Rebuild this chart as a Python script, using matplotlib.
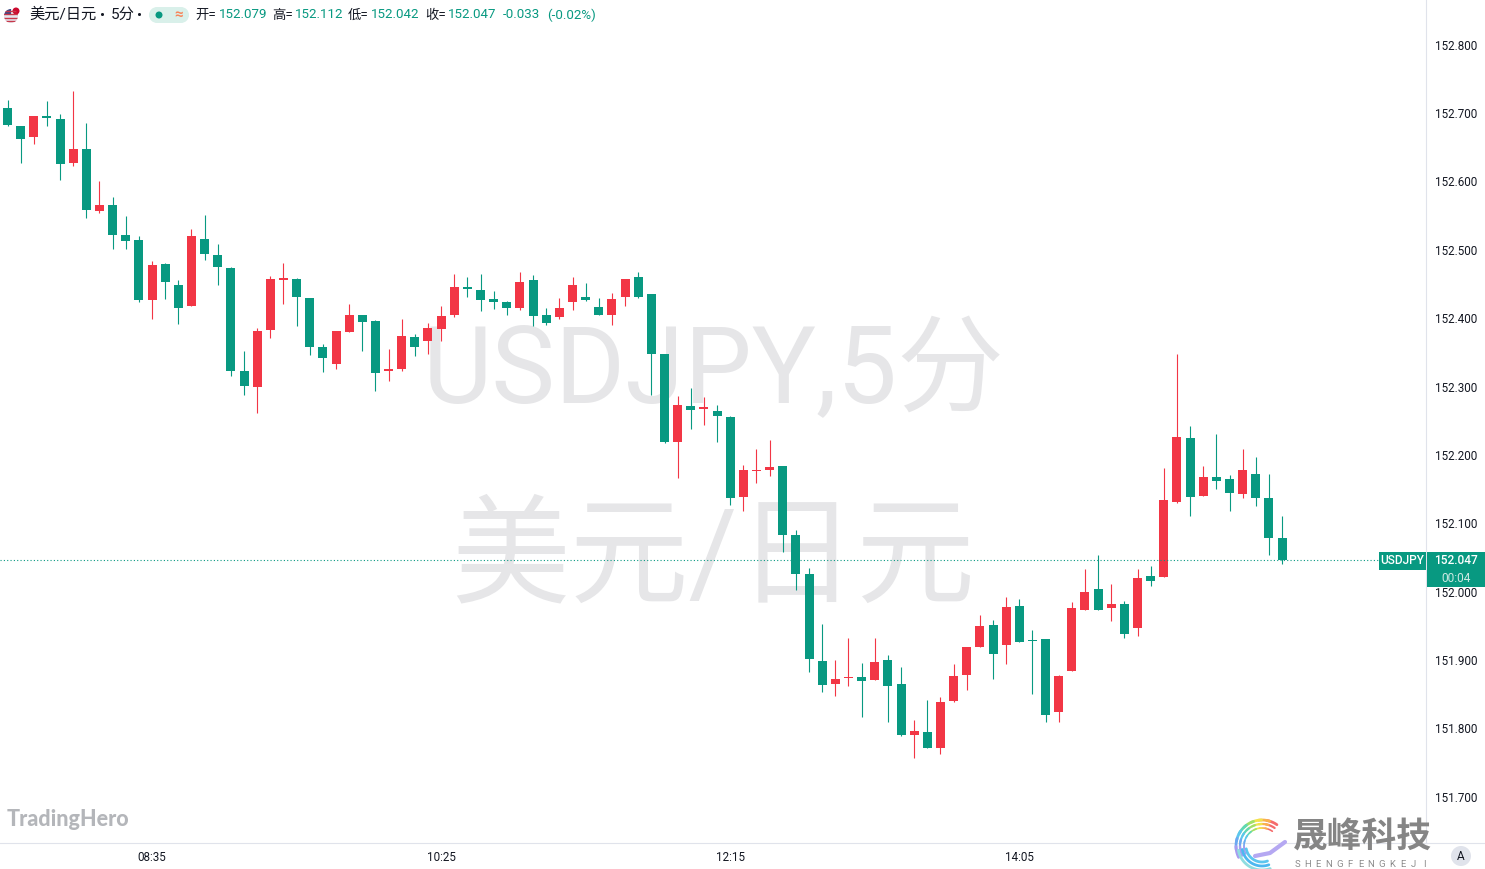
import matplotlib
matplotlib.use('Agg')
import matplotlib.pyplot as plt
from matplotlib.patches import Rectangle, Circle
from matplotlib.transforms import ScaledTranslation
import numpy as np

plt.rcParams['font.family'] = ['Roboto', 'Noto Sans CJK SC', 'DejaVu Sans']

opens = [152.709, 152.682, 152.666, 152.697, 152.693, 152.628, 152.649, 152.558, 152.567, 152.523,
         152.516, 152.428, 152.480, 152.450, 152.419, 152.517, 152.494, 152.475, 152.324, 152.301,
         152.384, 152.457, 152.458, 152.431, 152.359, 152.334, 152.381, 152.406, 152.397, 152.324,
         152.327, 152.374, 152.368, 152.385, 152.406, 152.447, 152.442, 152.429, 152.425, 152.416,
         152.457, 152.406, 152.403, 152.425, 152.432, 152.418, 152.406, 152.432, 152.461, 152.437,
         152.349, 152.220, 152.273, 152.268, 152.265, 152.257, 152.140, 152.178, 152.179, 152.185,
         152.084, 152.027, 151.900, 151.866, 151.875, 151.876, 151.872, 151.901, 151.866, 151.791,
         151.796, 151.772, 151.841, 151.879, 151.920, 151.952, 151.923, 151.980, 151.930, 151.932,
         151.825, 151.885, 151.974, 152.005, 151.977, 151.983, 151.948, 152.024, 152.022, 152.132,
         152.226, 152.141, 152.169, 152.166, 152.144, 152.173, 152.138, 152.079]
highs = [152.720, 152.682, 152.697, 152.719, 152.700, 152.733, 152.687, 152.602, 152.578, 152.551,
         152.521, 152.485, 152.482, 152.457, 152.532, 152.552, 152.510, 152.476, 152.353, 152.387,
         152.463, 152.482, 152.460, 152.431, 152.363, 152.383, 152.422, 152.406, 152.399, 152.356,
         152.400, 152.378, 152.394, 152.419, 152.466, 152.461, 152.466, 152.441, 152.426, 152.468,
         152.464, 152.416, 152.431, 152.461, 152.453, 152.431, 152.438, 152.458, 152.468, 152.437,
         152.349, 152.287, 152.299, 152.286, 152.274, 152.258, 152.186, 152.210, 152.223, 152.185,
         152.091, 152.036, 151.954, 151.901, 151.933, 151.897, 151.933, 151.908, 151.891, 151.813,
         151.843, 151.847, 151.895, 151.920, 151.967, 151.960, 151.993, 151.990, 151.945, 151.932,
         151.879, 151.986, 152.034, 152.055, 152.012, 151.987, 152.034, 152.039, 152.182, 152.349,
         152.243, 152.185, 152.232, 152.172, 152.210, 152.198, 152.173, 152.112]
lows = [152.682, 152.628, 152.656, 152.682, 152.603, 152.624, 152.548, 152.555, 152.502, 152.502,
        152.425, 152.400, 152.429, 152.393, 152.419, 152.486, 152.450, 152.317, 152.289, 152.263,
        152.372, 152.422, 152.390, 152.347, 152.322, 152.327, 152.381, 152.353, 152.295, 152.309,
        152.324, 152.346, 152.349, 152.368, 152.403, 152.432, 152.412, 152.415, 152.406, 152.413,
        152.390, 152.391, 152.400, 152.413, 152.426, 152.406, 152.391, 152.419, 152.431, 152.289,
        152.219, 152.167, 152.239, 152.245, 152.220, 152.128, 152.119, 152.160, 152.170, 152.059,
        152.004, 151.884, 151.854, 151.848, 151.863, 151.818, 151.872, 151.810, 151.790, 151.757,
        151.772, 151.764, 151.840, 151.857, 151.920, 151.873, 151.895, 151.928, 151.851, 151.810,
        151.810, 151.885, 151.974, 151.974, 151.958, 151.933, 151.936, 152.009, 152.022, 152.131,
        152.112, 152.141, 152.151, 152.119, 152.138, 152.126, 152.055, 152.042]
closes = [152.684, 152.663, 152.697, 152.694, 152.627, 152.649, 152.559, 152.567, 152.523, 152.514,
          152.428, 152.479, 152.454, 152.416, 152.521, 152.495, 152.476, 152.324, 152.302, 152.383,
          152.458, 152.460, 152.432, 152.359, 152.343, 152.383, 152.406, 152.396, 152.321, 152.327,
          152.375, 152.359, 152.387, 152.404, 152.447, 152.444, 152.428, 152.425, 152.416, 152.454,
          152.404, 152.394, 152.416, 152.450, 152.428, 152.406, 152.429, 152.458, 152.432, 152.349,
          152.220, 152.274, 152.267, 152.271, 152.258, 152.138, 152.179, 152.179, 152.184, 152.084,
          152.027, 151.903, 151.865, 151.873, 151.876, 151.870, 151.898, 151.863, 151.791, 151.797,
          151.772, 151.840, 151.878, 151.920, 151.951, 151.910, 151.979, 151.928, 151.929, 151.821,
          151.878, 151.977, 152.001, 151.974, 151.983, 151.939, 152.021, 152.017, 152.135, 152.227,
          152.140, 152.169, 152.163, 152.145, 152.179, 152.138, 152.080, 152.047]

time_ticks = [11, 33, 55, 77]
time_labels = ['08:35', '10:25', '12:15', '14:05']
price_ticks = [151.7, 151.8, 151.9, 152.0, 152.1, 152.2, 152.3, 152.4, 152.5, 152.6, 152.7, 152.8]

GREEN = '#089981'
RED = '#F23645'
TEXT = '#131722'
GRID = '#e0e3eb'
W, H = 1485, 869

fig = plt.figure(figsize=(W / 100, H / 100), dpi=100, facecolor='white')
ax = fig.add_axes([0, 1 - 843 / H, 1426 / W, 843 / H])
ax.set_xlim(-7.5 / 13.14, (1426 - 7.5) / 13.14)
ax.set_ylim(151.6333, 152.8665)

for s in ['top', 'left']:
    ax.spines[s].set_visible(False)
for s in ['right', 'bottom']:
    ax.spines[s].set_color(GRID)
    ax.spines[s].set_linewidth(0.8)

ax.yaxis.tick_right()
ax.set_yticks(price_ticks)
ax.set_yticklabels(['%.3f' % p for p in price_ticks])
ax.set_xticks(time_ticks)
ax.set_xticklabels(time_labels)
ax.tick_params(axis='y', length=0, pad=6.5, labelsize=8.4, labelcolor=TEXT)
ax.tick_params(axis='x', length=0, pad=5.7, labelsize=8.4, labelcolor=TEXT)
# labels sit a bit under a pixel higher than the tick position
for lbl in ax.get_yticklabels():
    lbl.set_transform(lbl.get_transform() + ScaledTranslation(0, 0.7 / 100, fig.dpi_scale_trans))

# watermark
ax.text(0.5005, 1 - 374 / 843, 'USDJPY,5分', transform=ax.transAxes, ha='center', va='center',
        fontsize=77, color='#e6e6e8', zorder=0)
ax.text(0.5, 1 - 561 / 843, '美元/日元', transform=ax.transAxes, ha='center', va='center',
        fontsize=85.5, color='#e6e6e8', zorder=0)

# candles
idx = np.arange(len(opens))
o, h, l, c = map(np.array, (opens, highs, lows, closes))
colors = [GREEN if cl < op else RED for op, cl in zip(opens, closes)]
wicks = ax.vlines(idx, l, h, colors=colors, linewidth=0.8, zorder=2)
wicks.set_snap(True)
ax.bar(idx, np.maximum(np.abs(c - o), 0.0015), bottom=np.minimum(o, c), width=9 / 13.14,
       color=colors, linewidth=0, zorder=3)

# last price line
ax.axhline(closes[-1], color=GREEN, linewidth=0.8, linestyle=(0, (1, 2)), zorder=4)

# overlay in pixels for labels and logos
ov = fig.add_axes([0, 0, 1, 1], facecolor='none')
ov.set_xlim(0, W)
ov.set_ylim(H, 0)
ov.axis('off')

ov.plot([1426, W], [843, 843], color=GRID, linewidth=0.8)
ov.add_patch(Rectangle((1379, 552), 47, 18, color=GREEN, linewidth=0))
ov.add_patch(Rectangle((1427, 552), 58, 18, color=GREEN, linewidth=0))
ov.add_patch(Rectangle((1427, 570), 58, 17, color=GREEN, linewidth=0))
ov.text(1402.5, 561, 'USDJPY', color='white', fontsize=8.6, ha='center', va='center', fontweight='medium')
ov.text(1456, 561, '%.3f' % closes[-1], color='white', fontsize=8.6, ha='center', va='center', fontweight='medium')
ov.text(1456, 579, '00:04', color='#cde9e3', fontsize=8.6, ha='center', va='center')

# header
flag = Circle((11, 16), 7, color='#e4e6ee', linewidth=0)
ov.add_patch(flag)
for yy in [10.5, 14, 17.5, 21]:
    st, = ov.plot([3, 19], [yy, yy], color='#c8384a', linewidth=1)
    st.set_clip_path(flag)
cant = Rectangle((3, 8), 8, 7, color='#3c4a86', linewidth=0)
ov.add_patch(cant)
cant.set_clip_path(flag)
ov.add_patch(Circle((16, 11), 4.5, color='white', linewidth=0))
ov.add_patch(Circle((16, 11), 3.5, color='#cc0a2f', linewidth=0))

ov.text(29, 15, '美元/日元', fontsize=11, color=TEXT, va='center', ha='left')
ov.text(103, 15.5, '•', fontsize=11, color=TEXT, va='center', ha='center')
ov.text(111, 15, '5分', fontsize=11, color=TEXT, va='center', ha='left')
ov.text(140, 15.5, '•', fontsize=11, color=TEXT, va='center', ha='center')
ov.add_patch(Rectangle((157, 7), 24, 16, color='#d9f0ea', linewidth=0))
ov.add_patch(Circle((157, 15), 8, color='#d9f0ea', linewidth=0))
ov.add_patch(Circle((181, 15), 8, color='#d9f0ea', linewidth=0))
ov.add_patch(Circle((159, 15), 3.5, color=GREEN, linewidth=0))
ov.text(179, 15, '≈', fontsize=11, color='#f7855a', va='center', ha='center', fontweight='bold')

for x, lab, x2, val in [(195, '开=', 218.5, opens[-1]), (272, '高=', 295, highs[-1]),
                        (348, '低=', 371, lows[-1]), (425, '收=', 448, closes[-1])]:
    ov.text(x, 15, lab, fontsize=9.6, color=TEXT, va='center', ha='left')
    ov.text(x2, 15, '%.3f' % val, fontsize=9.6, color=GREEN, va='center', ha='left')
ov.text(503, 15, '-0.033', fontsize=9.6, color=GREEN, va='center', ha='left')
ov.text(547, 15, '(-0.02%)', fontsize=9.6, color=GREEN, va='center', ha='left')

# TradingHero mark
ov.text(7, 820, 'TradingHero', fontsize=15.5, color='#b4b6ba', va='center', ha='left', fontweight='black',
        family=['Lato', 'DejaVu Sans'])

# 晟峰 logo
swirl = ['#f56b6b', '#f9b24e', '#f2e34c', '#9fe06a', '#5fd8b5', '#5cc6ee', '#6ca8f2', '#a89cf0']
for r0, lw in [(26, 2.0), (22, 1.6), (18, 1.2)]:
    for k, cc in enumerate(swirl):
        a = np.linspace(np.radians(-55 - k * 18), np.radians(-80 - k * 18), 12)
        ov.plot(1262 + r0 * np.cos(a), 846 + r0 * np.sin(a), color=cc, linewidth=lw, solid_capstyle='round')
a = np.linspace(np.radians(70), np.radians(170), 24)
for r, cc in zip([16, 20, 24], ['#5cc6ee', '#4db8f0', '#8fdde0']):
    ov.plot(1262 + r * np.cos(a), 846 + r * np.sin(a), color=cc, linewidth=2, solid_capstyle='round')
ov.plot([1255, 1270, 1285], [856, 853, 842], color='#b5a8f2', linewidth=3, solid_capstyle='round')
ov.text(1362.5, 837, '晟峰科技', fontsize=25, color='#858585', ha='center', va='center', fontweight='bold',
        family=['Noto Sans CJK SC', 'DejaVu Sans'])
for xx, ch in zip(np.linspace(1297, 1424, 13), 'SHENGFENGKEJI'):
    ov.text(xx, 864.5, ch, fontsize=6.8, color='#8c8c8c', ha='center', va='center')

# auto scale button
ov.add_patch(Circle((1461, 856), 10, color=GRID, linewidth=0))
ov.text(1461, 856.5, 'A', fontsize=8.6, color=TEXT, ha='center', va='center')

fig.savefig('out.png', dpi=100, facecolor='white')
